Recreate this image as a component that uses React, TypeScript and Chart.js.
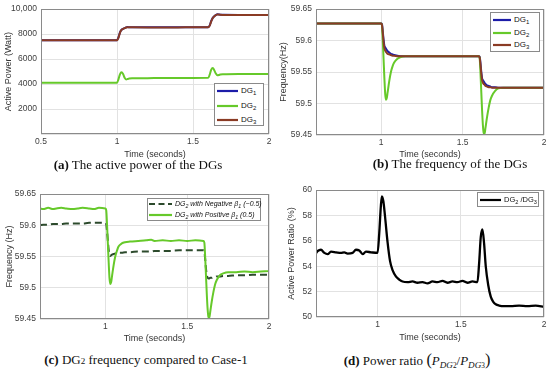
import React, { useEffect, useRef } from "react";
import { Chart, registerables } from "chart.js";

Chart.register(...registerables);

// ---------------- (a) Active power of the DGs ----------------
const timeA = [0.5, 0.6, 0.7, 0.8, 0.9, 1.0, 1.01, 1.02, 1.03, 1.04, 1.05, 1.06, 1.07, 1.08, 1.1, 1.2, 1.3, 1.4, 1.5, 1.6, 1.61, 1.62, 1.63, 1.64, 1.65, 1.66, 1.67, 1.68, 1.7, 1.8, 1.9, 2.0];
const powerDG1 = [7500, 7500, 7500, 7500, 7500, 7510, 7750, 8150, 8350, 8420, 8480, 8540, 8560, 8550, 8540, 8540, 8540, 8540, 8540, 8545, 8700, 9050, 9300, 9430, 9520, 9580, 9570, 9550, 9540, 9530, 9530, 9530];
const powerDG2 = [4100, 4100, 4100, 4100, 4100, 4110, 4400, 4800, 4940, 4800, 4500, 4370, 4400, 4440, 4460, 4470, 4480, 4480, 4490, 4495, 4750, 5150, 5280, 5100, 4850, 4700, 4720, 4760, 4780, 4800, 4800, 4800];
const powerDG3 = [7500, 7500, 7500, 7500, 7500, 7505, 7720, 8120, 8330, 8410, 8470, 8530, 8555, 8550, 8540, 8535, 8535, 8535, 8540, 8540, 8680, 9020, 9280, 9420, 9510, 9570, 9565, 9545, 9535, 9525, 9525, 9525];
const powerTicks = [0, 2000, 4000, 6000, 8000, 10000];
const timeTicksA = [0.5, 1, 1.5, 2];

// ---------------- (b) Frequency of the DGs ----------------
const timeB = [0.6, 0.7, 0.8, 0.9, 1.0, 1.005, 1.01, 1.015, 1.02, 1.025, 1.03, 1.035, 1.04, 1.05, 1.06, 1.07, 1.08, 1.1, 1.12, 1.15, 1.2, 1.3, 1.4, 1.5, 1.6, 1.605, 1.61, 1.615, 1.62, 1.625, 1.63, 1.635, 1.64, 1.65, 1.66, 1.67, 1.68, 1.7, 1.72, 1.75, 1.8, 1.9, 2.0];
const freqDG1 = [59.627, 59.627, 59.627, 59.627, 59.627, 59.626, 59.615, 59.601, 59.592, 59.589, 59.587, 59.585, 59.583, 59.581, 59.579, 59.578, 59.577, 59.576, 59.575, 59.575, 59.575, 59.575, 59.575, 59.575, 59.575, 59.574, 59.564, 59.55, 59.54, 59.537, 59.535, 59.533, 59.531, 59.529, 59.528, 59.527, 59.526, 59.526, 59.525, 59.525, 59.525, 59.525, 59.525];
const freqDG2 = [59.627, 59.627, 59.627, 59.627, 59.627, 59.624, 59.6, 59.57, 59.54, 59.515, 59.506, 59.509, 59.518, 59.536, 59.55, 59.559, 59.565, 59.571, 59.574, 59.575, 59.575, 59.575, 59.575, 59.575, 59.575, 59.572, 59.548, 59.518, 59.488, 59.465, 59.453, 59.452, 59.46, 59.478, 59.493, 59.505, 59.512, 59.52, 59.524, 59.525, 59.525, 59.525, 59.525];
const freqDG3 = [59.627, 59.627, 59.627, 59.627, 59.627, 59.625, 59.612, 59.598, 59.588, 59.584, 59.582, 59.58, 59.579, 59.578, 59.577, 59.576, 59.576, 59.575, 59.575, 59.575, 59.575, 59.575, 59.575, 59.575, 59.575, 59.573, 59.562, 59.547, 59.537, 59.533, 59.531, 59.53, 59.528, 59.527, 59.526, 59.526, 59.525, 59.525, 59.525, 59.525, 59.525, 59.525, 59.525];
const freqTicks = [59.45, 59.5, 59.55, 59.6, 59.65];
const timeTicks = [1, 1.5, 2];

// ---------------- (c) DG2 frequency compared to Case-1 ----------------
const timeC = [0.6, 0.62, 0.65, 0.68, 0.7, 0.73, 0.76, 0.8, 0.83, 0.86, 0.9, 0.93, 0.96, 1.0, 1.005, 1.01, 1.015, 1.02, 1.025, 1.03, 1.035, 1.04, 1.05, 1.06, 1.07, 1.08, 1.1, 1.12, 1.15, 1.2, 1.25, 1.28, 1.3, 1.35, 1.4, 1.45, 1.5, 1.55, 1.6, 1.605, 1.61, 1.615, 1.62, 1.625, 1.63, 1.635, 1.64, 1.65, 1.66, 1.67, 1.68, 1.7, 1.72, 1.75, 1.8, 1.85, 1.9, 1.95, 2.0];
const freqNegBeta = [59.6, 59.601, 59.601, 59.602, 59.602, 59.602, 59.603, 59.603, 59.603, 59.603, 59.604, 59.604, 59.604, 59.604, 59.602, 59.59, 59.575, 59.56, 59.552, 59.551, 59.552, 59.553, 59.554, 59.555, 59.555, 59.556, 59.556, 59.557, 59.557, 59.558, 59.558, 59.558, 59.559, 59.559, 59.559, 59.56, 59.56, 59.56, 59.56, 59.558, 59.545, 59.53, 59.52, 59.516, 59.515, 59.515, 59.516, 59.516, 59.517, 59.517, 59.518, 59.518, 59.519, 59.519, 59.52, 59.52, 59.521, 59.521, 59.521];
const freqPosBeta = [59.627, 59.626, 59.628, 59.626, 59.627, 59.628, 59.627, 59.626, 59.627, 59.628, 59.627, 59.626, 59.628, 59.627, 59.624, 59.6, 59.57, 59.54, 59.515, 59.506, 59.509, 59.518, 59.536, 59.55, 59.559, 59.566, 59.571, 59.573, 59.574, 59.575, 59.576, 59.577, 59.575, 59.576, 59.575, 59.576, 59.575, 59.576, 59.575, 59.572, 59.548, 59.518, 59.488, 59.465, 59.453, 59.452, 59.46, 59.478, 59.493, 59.505, 59.512, 59.52, 59.523, 59.525, 59.525, 59.526, 59.525, 59.526, 59.527];

// ---------------- (d) Power ratio ----------------
const timeD = [0.6, 0.62, 0.64, 0.66, 0.68, 0.7, 0.72, 0.75, 0.78, 0.8, 0.82, 0.85, 0.87, 0.89, 0.91, 0.93, 0.96, 1.0, 1.01, 1.02, 1.026, 1.035, 1.045, 1.06, 1.075, 1.09, 1.11, 1.13, 1.15, 1.18, 1.21, 1.24, 1.27, 1.3, 1.33, 1.36, 1.39, 1.42, 1.45, 1.48, 1.51, 1.54, 1.57, 1.6, 1.61, 1.62, 1.63, 1.64, 1.65, 1.665, 1.68, 1.695, 1.71, 1.73, 1.76, 1.8, 1.85, 1.9, 1.95, 2.0];
const powerRatio = [55.1, 54.9, 55.2, 55.3, 55.05, 54.95, 55.15, 55.1, 55.05, 55.1, 55.0, 55.05, 55.3, 55.25, 54.95, 55.15, 55.1, 55.05, 56.6, 58.8, 59.5, 59.1, 57.9, 55.9, 54.4, 53.7, 53.2, 52.95, 52.8, 52.75, 52.8, 52.7, 52.75, 52.65, 52.8, 52.75, 52.85, 52.7, 52.8, 52.75, 52.85, 52.7, 52.8, 52.75, 54.2, 56.3, 56.9, 55.8, 54.0, 52.5, 51.6, 51.2, 51.0, 50.9, 50.85, 50.85, 50.9, 50.85, 50.9, 50.8];
const ratioTicks = [50, 52, 54, 56, 58, 60];

// ---------------- colours ----------------
const BLUE = "#1c1ca8";
const GREEN = "#66c92a";
const BROWN = "#8a3b24";
const DARKGREEN = "#2c4a2c";
const BLACK = "#000000";

const SANS = "'Liberation Sans', Arial, Helvetica, sans-serif";
const SERIF = "'Liberation Serif', 'DejaVu Serif', serif";

const pts = (xs: number[], ys: number[]) => xs.map((x, i) => ({ x, y: ys[i] }));

const framePlugin = {
  id: "frameBox",
  afterDatasetsDraw(chart: any) {
    const { ctx, chartArea } = chart;
    const { left, top, right, bottom } = chartArea;
    ctx.save();
    ctx.strokeStyle = "#8a8a8a";
    ctx.lineWidth = 1;
    ctx.strokeRect(Math.round(left) + 0.5, Math.round(top) + 0.5, Math.round(right - left) - 1, Math.round(bottom - top) - 1);
    ctx.restore();
  },
};

type Spec = {
  left: number;
  top: number;
  clipTop: number;
  width: number;
  height: number;
  padLeft: number;
  padRight: number;
  padTop: number;
  yWidth: number;
  xHeight: number;
  xMin: number;
  xMax: number;
  xTicks: number[];
  yMin: number;
  yMax: number;
  yTicks: number[];
  yLabel: (v: number) => string;
  yTitle: string;
  datasets: any[];
};

function ChartPanel({ spec }: { spec: Spec }) {
  const ref = useRef<HTMLCanvasElement>(null);
  useEffect(() => {
    const tickFont = { family: SANS, size: 8.5 };
    const titleFont = { family: SANS, size: 9 };
    const chart = new Chart(ref.current as HTMLCanvasElement, {
      type: "line",
      data: { datasets: spec.datasets },
      options: {
        animation: false,
        responsive: false,
        maintainAspectRatio: false,
        layout: { padding: { left: spec.padLeft, right: spec.padRight, top: spec.padTop, bottom: 0 } },
        plugins: { legend: { display: false }, tooltip: { enabled: false } },
        elements: { point: { radius: 0 }, line: { borderWidth: 2, cubicInterpolationMode: "monotone" } },
        scales: {
          x: {
            type: "linear",
            min: spec.xMin,
            max: spec.xMax,
            afterBuildTicks: (s: any) => {
              s.ticks = spec.xTicks.map((v) => ({ value: v }));
            },
            afterFit: (s: any) => {
              s.height = spec.xHeight;
            },
            ticks: { font: tickFont, color: "#404040", padding: 3, maxRotation: 0, autoSkip: false, callback: (v: any) => String(v) },
            grid: { color: "#e2e2e2", drawTicks: false },
            border: { display: false },
            title: { display: true, text: "Time (seconds)", font: titleFont, color: "#333", padding: 0 },
          },
          y: {
            type: "linear",
            min: spec.yMin,
            max: spec.yMax,
            afterBuildTicks: (s: any) => {
              s.ticks = spec.yTicks.map((v) => ({ value: v }));
            },
            afterFit: (s: any) => {
              s.width = spec.yWidth;
            },
            ticks: { font: tickFont, color: "#404040", padding: 4, autoSkip: false, callback: (v: any) => spec.yLabel(Number(v)) },
            grid: { color: "#e2e2e2", drawTicks: false },
            border: { display: false },
            title: { display: true, text: spec.yTitle, font: titleFont, color: "#333", padding: 0 },
          },
        },
      } as any,
      plugins: [framePlugin],
    });
    return () => chart.destroy();
  }, []);
  const wrapTop = spec.clipTop;
  return (
    <div
      style={{
        position: "absolute",
        left: spec.left,
        top: wrapTop,
        width: spec.width,
        height: spec.top + spec.height - wrapTop,
        overflow: "hidden",
      }}
    >
      <canvas
        ref={ref}
        width={spec.width}
        height={spec.height}
        style={{ position: "absolute", left: 0, top: spec.top - wrapTop, width: spec.width, height: spec.height }}
      />
    </div>
  );
}

const line = (label: string, xs: number[], ys: number[], color: string, order: number, extra: any = {}) => ({
  label,
  data: pts(xs, ys),
  borderColor: color,
  backgroundColor: color,
  borderWidth: 2,
  pointRadius: 0,
  fill: false,
  order,
  ...extra,
});

const specA: Spec = {
  left: 0, top: 0, clipTop: 0, width: 275, height: 160,
  padLeft: 3.6, padRight: 6, padTop: 6, yWidth: 37.4, xHeight: 26,
  xMin: 0.5, xMax: 2, xTicks: timeTicksA,
  yMin: 0, yMax: 10000, yTicks: powerTicks,
  yLabel: (v) => (v === 0 ? "" : v === 10000 ? "10,000" : String(v)),
  yTitle: "Active Power (Watt)",
  datasets: [
    line("DG1", timeA, powerDG1, BLUE, 2),
    line("DG2", timeA, powerDG2, GREEN, 1),
    line("DG3", timeA, powerDG3, BROWN, 0),
  ],
};

const specB: Spec = {
  left: 275, top: 0, clipTop: 0, width: 275, height: 160,
  padLeft: 2.9, padRight: 6, padTop: 6, yWidth: 38.1, xHeight: 25,
  xMin: 0.6, xMax: 2, xTicks: timeTicks,
  yMin: 59.45, yMax: 59.65, yTicks: freqTicks,
  yLabel: (v) => String(v),
  yTitle: "Frequency(Hz)",
  datasets: [
    line("DG1", timeB, freqDG1, BLUE, 2),
    line("DG2", timeB, freqDG2, GREEN, 1),
    line("DG3", timeB, freqDG3, BROWN, 0),
  ],
};

const specC: Spec = {
  left: 0, top: 185, clipTop: 185, width: 275, height: 159,
  padLeft: 4.6, padRight: 6, padTop: 5, yWidth: 35.4, xHeight: 25,
  xMin: 0.6, xMax: 2, xTicks: timeTicks,
  yMin: 59.45, yMax: 59.65, yTicks: freqTicks,
  yLabel: (v) => String(v),
  yTitle: "Frequency (Hz)",
  datasets: [
    line("DG2 with Negative β1 (−0.5)", timeC, freqNegBeta, DARKGREEN, 1, { borderDash: [7, 4], borderWidth: 2 }),
    line("DG2 with Positive β1 (0.5)", timeC, freqPosBeta, GREEN, 0),
  ],
};

const specD: Spec = {
  left: 275, top: 181, clipTop: 185, width: 275, height: 162,
  padLeft: 11.6, padRight: 6, padTop: 6, yWidth: 29.4, xHeight: 26,
  xMin: 0.63, xMax: 2, xTicks: timeTicks,
  yMin: 50, yMax: 60, yTicks: ratioTicks,
  yLabel: (v) => String(v),
  yTitle: "Active Power Ratio (%)",
  datasets: [line("DG2 /DG3", timeD, powerRatio, BLACK, 0, { borderWidth: 2.3 })],
};

const subStyle: React.CSSProperties = { fontSize: "0.75em", verticalAlign: "-0.35em", lineHeight: 0 };

function Swatch({ x, y, len, color, dashed }: { x: number; y: number; len: number; color: string; dashed?: boolean }) {
  return (
    <svg style={{ position: "absolute", left: x, top: y - 3, overflow: "visible" }} width={len} height={6}>
      <line x1={0} y1={3} x2={len} y2={3} stroke={color} strokeWidth={2.2} strokeDasharray={dashed ? "6 3.5" : undefined} />
    </svg>
  );
}

function LegendText({ x, y, size, italic, children }: { x: number; y: number; size: number; italic?: boolean; children: React.ReactNode }) {
  return (
    <div
      style={{
        position: "absolute",
        left: x,
        top: y - 6,
        height: 12,
        lineHeight: "12px",
        fontFamily: SANS,
        fontSize: size,
        fontStyle: italic ? "italic" : "normal",
        color: "#111",
        whiteSpace: "nowrap",
      }}
    >
      {children}
    </div>
  );
}

function Box({ x, y, w, h }: { x: number; y: number; w: number; h: number }) {
  return (
    <div
      style={{
        position: "absolute",
        left: x,
        top: y,
        width: w,
        height: h,
        boxSizing: "border-box",
        border: "1px solid #8a8a8a",
        background: "#fff",
      }}
    />
  );
}

const DG = (n: number) => (
  <span>
    DG<span style={subStyle}>{n}</span>
  </span>
);

function Caption({ cx, cy, children }: { cx: number; cy: number; children: React.ReactNode }) {
  return (
    <div
      style={{
        position: "absolute",
        left: cx - 160,
        width: 320,
        top: cy - 8,
        height: 16,
        lineHeight: "16px",
        textAlign: "center",
        fontFamily: SERIF,
        fontSize: 13,
        color: "#111",
        whiteSpace: "nowrap",
      }}
    >
      {children}
    </div>
  );
}

export default function App() {
  return (
    <div style={{ position: "absolute", left: 0, top: 0, width: 550, height: 370, background: "#fff", overflow: "hidden" }}>
      <ChartPanel spec={specA} />
      <ChartPanel spec={specB} />
      <ChartPanel spec={specC} />
      <ChartPanel spec={specD} />

      {/* legend (a) */}
      <Box x={214} y={83} w={50} h={43} />
      <Swatch x={217} y={91} len={21} color={BLUE} />
      <LegendText x={241} y={91} size={8}>{DG(1)}</LegendText>
      <Swatch x={217} y={105.5} len={21} color={GREEN} />
      <LegendText x={241} y={105.5} size={8}>{DG(2)}</LegendText>
      <Swatch x={217} y={120} len={21} color={BROWN} />
      <LegendText x={241} y={120} size={8}>{DG(3)}</LegendText>

      {/* legend (b) */}
      <Box x={490} y={12} w={50} h={40} />
      <Swatch x={493} y={20} len={18} color={BLUE} />
      <LegendText x={514} y={20} size={8}>{DG(1)}</LegendText>
      <Swatch x={493} y={32.5} len={18} color={GREEN} />
      <LegendText x={514} y={32.5} size={8}>{DG(2)}</LegendText>
      <Swatch x={493} y={45} len={18} color={BROWN} />
      <LegendText x={514} y={45} size={8}>{DG(3)}</LegendText>

      {/* legend (c) */}
      <Box x={147} y={198} w={114} h={23} />
      <Swatch x={149} y={203.5} len={23} color={DARKGREEN} dashed />
      <LegendText x={175} y={203.5} size={7} italic>
        {DG(2)} with Negative β<span style={subStyle}>1</span> (−0.5)
      </LegendText>
      <Swatch x={149} y={215} len={23} color={GREEN} />
      <LegendText x={175} y={215} size={7} italic>
        {DG(2)} with Positive β<span style={subStyle}>1</span> (0.5)
      </LegendText>

      {/* legend (d) */}
      <Box x={477} y={192} w={62} h={15} />
      <Swatch x={480} y={199.5} len={21} color={BLACK} />
      <LegendText x={504} y={199.5} size={7.5}>
        {DG(2)} /{DG(3)}
      </LegendText>

      <Caption cx={138} cy={165}>
        <b>(a)</b> The active power of the DGs
      </Caption>
      <Caption cx={450} cy={164}>
        <b>(b)</b> The frequency of the DGs
      </Caption>
      <Caption cx={146} cy={360}>
        <b>(c)</b> DG<span style={{ fontSize: "0.7em" }}>2</span> frequency compared to Case-1
      </Caption>
      <Caption cx={417} cy={360}>
        <b>(d)</b> Power ratio{" "}
        <span style={{ fontSize: "1.25em" }}>(</span>
        <i>P</i>
        <span style={{ fontSize: "0.7em", verticalAlign: "-0.3em" }}>
          <i>DG</i>
          <span style={{ fontSize: "0.8em" }}>2</span>
        </span>
        /<i>P</i>
        <span style={{ fontSize: "0.7em", verticalAlign: "-0.3em" }}>
          <i>DG</i>
          <span style={{ fontSize: "0.8em" }}>3</span>
        </span>
        <span style={{ fontSize: "1.25em" }}>)</span>
      </Caption>
    </div>
  );
}
